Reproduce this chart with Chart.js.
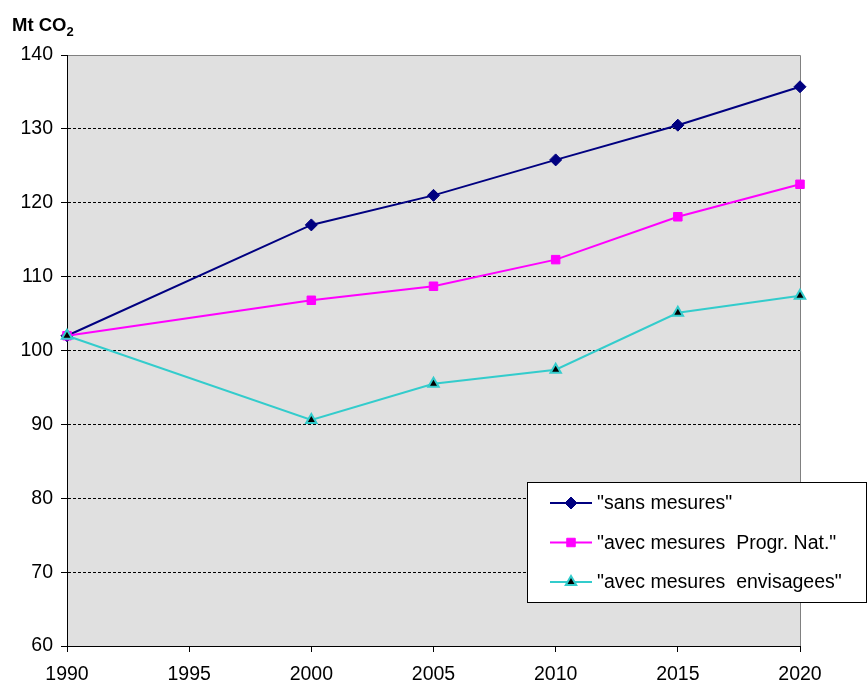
<!DOCTYPE html>
<html>
<head>
<meta charset="utf-8">
<script src="https://cdn.jsdelivr.net/npm/chart.js@4.4.0/dist/chart.umd.min.js"></script>
<style>
  html, body { margin: 0; padding: 0; background: #fff; }
  #wrap { width: 867px; height: 682px; position: relative; }
</style>
</head>
<body>
<div id="wrap"><canvas id="chart"></canvas></div>
<script>
// Données (Mt CO2)
const years = [1990, 2000, 2005, 2010, 2015, 2020];
const sansMesures = [102.0, 117.0, 121.0, 125.8, 130.5, 135.7];
const progrNat = [102.0, 106.8, 108.7, 112.3, 118.1, 122.5];
const envisagees = [102.0, 90.6, 95.5, 97.4, 105.1, 107.4];
const xTicks = [1990, 1995, 2000, 2005, 2010, 2015, 2020];
const seriesLabels = ['"sans mesures"', '"avec mesures  Progr. Nat."', '"avec mesures  envisagees"'];

const FONT = '"Liberation Sans", Arial, sans-serif';

function toPoints(values) {
    return years.map((y, i) => ({ x: y, y: values[i] }));
}

// fond gris + bordure droite/haut
const plotBackground = {
    id: 'plotBackground',
    beforeDraw(chart) {
        const { ctx, chartArea: a } = chart;
        ctx.save();
        ctx.fillStyle = '#E0E0E0';
        ctx.fillRect(a.left, a.top, a.right - a.left, a.bottom - a.top);
        ctx.strokeStyle = '#808080';
        ctx.lineWidth = 1;
        ctx.beginPath();
        ctx.moveTo(a.left, a.top + 0.5);
        ctx.lineTo(a.right + 0.5, a.top + 0.5);
        ctx.lineTo(a.right + 0.5, a.bottom);
        ctx.stroke();
        ctx.restore();
    }
};

// titre de l'axe avec indice
const axisTitle = {
    id: 'axisTitle',
    afterDraw(chart) {
        const ctx = chart.ctx;
        ctx.save();
        ctx.fillStyle = '#000';
        ctx.textBaseline = 'alphabetic';
        ctx.font = 'bold 18.5px ' + FONT;
        ctx.fillText('Mt CO', 12, 31);
        const w = ctx.measureText('Mt CO').width;
        ctx.font = 'bold 13px ' + FONT;
        ctx.fillText('2', 12 + w, 36);
        ctx.restore();
    }
};

// légende encadrée
const boxLegend = {
    id: 'boxLegend',
    afterDraw(chart) {
        const ctx = chart.ctx;
        const x = 527.5, y = 482.5, w = 339, h = 120;
        ctx.save();
        ctx.fillStyle = '#fff';
        ctx.fillRect(x, y, w, h);
        ctx.strokeStyle = '#000';
        ctx.lineWidth = 1;
        ctx.strokeRect(x, y, w, h);
        ctx.font = '19.5px ' + FONT;
        ctx.textBaseline = 'middle';
        chart.data.datasets.forEach((ds, i) => {
            const ry = 503 + i * 39.5;
            ctx.strokeStyle = ds.borderColor;
            ctx.lineWidth = 2;
            ctx.beginPath();
            ctx.moveTo(550, ry);
            ctx.lineTo(592, ry);
            ctx.stroke();
            ctx.fillStyle = ds.pointBackgroundColor;
            ctx.strokeStyle = ds.pointBorderColor;
            ctx.lineWidth = ds.pointBorderWidth;
            Chart.helpers.drawPoint(ctx, {
                pointStyle: ds.pointStyle,
                radius: ds.pointRadius,
                borderWidth: ds.pointBorderWidth,
                rotation: 0
            }, 571, ry);
            ctx.fillStyle = '#000';
            ctx.fillText(ds.label, 597, ry + 1);
        });
        ctx.restore();
    }
};

const ctx = document.getElementById('chart').getContext('2d');

new Chart(ctx, {
    type: 'line',
    data: {
        datasets: [
            {
                label: seriesLabels[0],
                data: toPoints(sansMesures),
                borderColor: '#000080',
                borderWidth: 2,
                pointStyle: 'rectRot',
                pointRadius: 6,
                pointBackgroundColor: '#000080',
                pointBorderColor: '#000080',
                pointBorderWidth: 1,
                clip: false,
                order: 2
            },
            {
                label: seriesLabels[1],
                data: toPoints(progrNat),
                borderColor: '#FF00FF',
                borderWidth: 2,
                pointStyle: 'rect',
                pointRadius: 6,
                pointBackgroundColor: '#FF00FF',
                pointBorderColor: '#FF00FF',
                pointBorderWidth: 1,
                clip: false,
                order: 1
            },
            {
                label: seriesLabels[2],
                data: toPoints(envisagees),
                borderColor: '#33CCCC',
                borderWidth: 2,
                pointStyle: 'triangle',
                pointRadius: 6,
                pointBackgroundColor: '#000000',
                pointBorderColor: '#33CCCC',
                pointBorderWidth: 2,
                clip: false,
                order: 0
            }
        ]
    },
    options: {
        responsive: true,
        maintainAspectRatio: false,
        animation: false,
        layout: { padding: { left: 0, top: 55, right: 67, bottom: 0 } },
        plugins: {
            legend: { display: false },
            tooltip: { enabled: false }
        },
        elements: { line: { tension: 0 } },
        scales: {
            x: {
                type: 'linear',
                min: 1990,
                max: 2020,
                afterBuildTicks: scale => { scale.ticks = xTicks.map(v => ({ value: v })); },
                afterFit: scale => { scale.height = 36; },
                grid: {
                    drawOnChartArea: false,
                    drawTicks: true,
                    tickLength: 6,
                    tickColor: '#000'
                },
                border: { display: true, color: '#000', width: 1 },
                ticks: {
                    color: '#000',
                    font: { family: FONT, size: 19.5 },
                    padding: 11,
                    maxRotation: 0,
                    callback: v => v
                }
            },
            y: {
                min: 60,
                max: 140,
                afterFit: scale => { scale.width = 67; },
                grid: {
                    color: c => (c.tick && c.tick.value === 140) ? '#808080' : '#000',
                    tickColor: '#000',
                    tickLength: 6,
                    lineWidth: 1
                },
                border: {
                    display: true,
                    color: '#000',
                    width: 1,
                    dash: c => (c.tick && c.tick.value === 140) ? [] : [3, 2]
                },
                ticks: {
                    stepSize: 10,
                    color: '#000',
                    font: { family: FONT, size: 19.5 },
                    padding: 8
                }
            }
        }
    },
    plugins: [plotBackground, axisTitle, boxLegend]
});
</script>
</body>
</html>
